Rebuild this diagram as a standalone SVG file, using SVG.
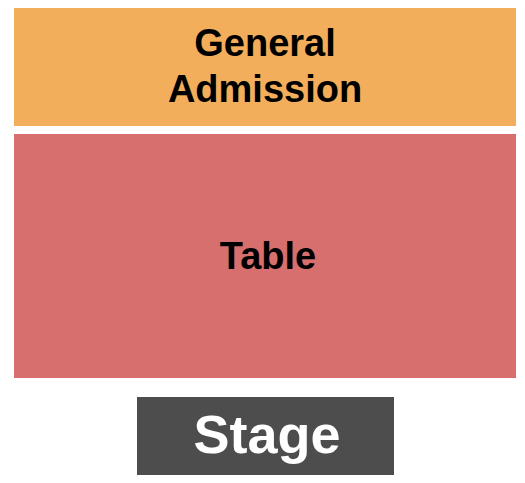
<svg xmlns="http://www.w3.org/2000/svg" width="525" height="483" viewBox="0 0 525 483">
<style>
.lbl{font-family:"Liberation Sans",Arial,sans-serif;font-weight:bold;text-anchor:middle}
</style>
<rect width="525" height="483" fill="#ffffff"/>
<g id="general-admission">
<rect x="14" y="8" width="502" height="118" fill="#F2AE5B"/>
<text class="lbl" x="265" y="56" font-size="38" fill="#000">General</text>
<text class="lbl" x="265" y="102" font-size="38" fill="#000">Admission</text>
</g>
<g id="table">
<rect x="14" y="134" width="502" height="244" fill="#D66F6E"/>
<text class="lbl" x="268" y="269" font-size="38" fill="#000">Table</text>
</g>
<g id="stage">
<rect x="137" y="397" width="257" height="78" fill="#4D4D4D"/>
<text class="lbl" x="267" y="453" font-size="54" fill="#fff">Stage</text>
</g>
<g id="connectors"/>
</svg>
